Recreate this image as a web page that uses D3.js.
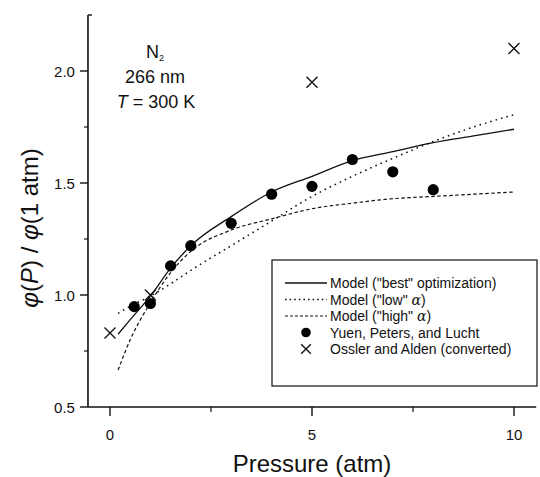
<!DOCTYPE html>
<html>
<head>
<meta charset="utf-8">
<script src="https://d3js.org/d3.v7.min.js"></script>
<style>
  body { margin: 0; background: #fff; }
  text { font-family: "Liberation Sans", Arial, sans-serif; fill: #111; }
</style>
</head>
<body>
<svg id="chart" width="540" height="477"></svg>
<script>
  // measured data (Yuen, Peters, and Lucht)
  const yuenP = [0.6, 1.0, 1.5, 2.0, 3.0, 4.0, 5.0, 6.0, 7.0, 8.0];
  const yuenPhi = [0.948, 0.962, 1.13, 1.22, 1.32, 1.45, 1.485, 1.605, 1.55, 1.47];

  // Ossler and Alden (converted)
  const osslerP = [0, 1, 5, 10];
  const osslerPhi = [0.83, 1.0, 1.95, 2.1];

  // model curves
  const modelP = [0.2, 0.5, 1, 1.5, 2, 3, 4, 5, 6, 7, 8, 9, 10];
  const bestPhi = [0.825, 0.89, 0.995, 1.12, 1.22, 1.35, 1.46, 1.53, 1.6, 1.64, 1.68, 1.71, 1.74];
  const lowPhi = [0.918, 0.95, 0.995, 1.05, 1.11, 1.22, 1.33, 1.44, 1.53, 1.61, 1.685, 1.75, 1.805];
  const highPhi = [0.665, 0.8, 0.965, 1.1, 1.195, 1.29, 1.34, 1.385, 1.41, 1.43, 1.44, 1.45, 1.46];

  const xTicks = [0, 5, 10];
  const xMinor = [2.5, 7.5];
  const yTicks = [0.5, 1.0, 1.5, 2.0];
  const yMinor = [0.75, 1.25, 1.75];

  const svg = d3.select("#chart");

  // scales - pixel positions taken from the reference layout
  const x = d3.scaleLinear().domain([0, 10]).range([110, 514]);
  const y = d3.scaleLinear().domain([0.5, 2.0]).range([407, 71]);

  const xLeft = x(-0.545), xRight = x(10.55);
  const yTop = y(2.25);

  // axis lines
  svg.append("line")
    .attr("x1", xLeft).attr("x2", xLeft)
    .attr("y1", yTop).attr("y2", y(0.5))
    .attr("stroke", "#111").attr("stroke-width", 1.6);
  svg.append("line")
    .attr("x1", xLeft).attr("x2", xLeft + 4)
    .attr("y1", yTop).attr("y2", yTop)
    .attr("stroke", "#111").attr("stroke-width", 1.4);
  svg.append("line")
    .attr("x1", xLeft).attr("x2", xRight)
    .attr("y1", y(0.5)).attr("y2", y(0.5))
    .attr("stroke", "#111").attr("stroke-width", 1.6);

  // y ticks
  svg.selectAll(".ytick").data(yTicks).join("line")
    .attr("x1", xLeft - 8).attr("x2", xLeft)
    .attr("y1", d => y(d)).attr("y2", d => y(d))
    .attr("stroke", "#111").attr("stroke-width", 1.4);
  svg.selectAll(".yminor").data(yMinor).join("line")
    .attr("x1", xLeft - 4).attr("x2", xLeft)
    .attr("y1", d => y(d)).attr("y2", d => y(d))
    .attr("stroke", "#111").attr("stroke-width", 1.2);
  svg.selectAll(".ylab").data(yTicks).join("text")
    .attr("x", xLeft - 13).attr("y", d => y(d) + 5.5)
    .attr("text-anchor", "end")
    .style("font-size", "15px")
    .text(d => d.toFixed(1));

  // x ticks
  svg.selectAll(".xtick").data(xTicks).join("line")
    .attr("x1", d => x(d)).attr("x2", d => x(d))
    .attr("y1", y(0.5)).attr("y2", y(0.5) + 9)
    .attr("stroke", "#111").attr("stroke-width", 1.4);
  svg.selectAll(".xminor").data(xMinor).join("line")
    .attr("x1", d => x(d)).attr("x2", d => x(d))
    .attr("y1", y(0.5)).attr("y2", y(0.5) + 5)
    .attr("stroke", "#111").attr("stroke-width", 1.2);
  svg.selectAll(".xlab").data(xTicks).join("text")
    .attr("x", d => x(d)).attr("y", y(0.5) + 33)
    .attr("text-anchor", "middle")
    .style("font-size", "15px")
    .text(d => d);

  // axis titles
  svg.append("text")
    .attr("x", 312).attr("y", 472)
    .attr("text-anchor", "middle")
    .style("font-size", "24px")
    .text("Pressure (atm)");

  const yt = svg.append("text")
    .attr("transform", "translate(38,228) rotate(-90)")
    .attr("text-anchor", "middle")
    .style("font-size", "24px");
  yt.append("tspan").style("font-style", "italic").text("φ");
  yt.append("tspan").text("(");
  yt.append("tspan").style("font-style", "italic").text("P");
  yt.append("tspan").text(") / ");
  yt.append("tspan").style("font-style", "italic").text("φ");
  yt.append("tspan").text("(1 atm)");

  // annotation
  const ann = svg.append("g").style("font-size", "18px");
  const n2 = ann.append("text").attr("x", 155).attr("y", 58).attr("text-anchor", "middle");
  n2.append("tspan").text("N");
  n2.append("tspan").attr("dy", 3).style("font-size", "9px").text("2");
  ann.append("text").attr("x", 155).attr("y", 83).attr("text-anchor", "middle").text("266 nm");
  const tt = ann.append("text").attr("x", 156).attr("y", 108).attr("text-anchor", "middle");
  tt.append("tspan").style("font-style", "italic").text("T");
  tt.append("tspan").text(" = 300 K");

  // model curves
  const line = d3.line()
    .x(d => x(d[0]))
    .y(d => y(d[1]))
    .curve(d3.curveMonotoneX);

  const curves = [
    { vals: bestPhi, dash: null, w: 1.3 },
    { vals: lowPhi, dash: "1.6,4", w: 1.5 },
    { vals: highPhi, dash: "3.5,2.5", w: 1.2 }
  ];
  curves.forEach(c => {
    svg.append("path")
      .attr("d", line(modelP.map((p, i) => [p, c.vals[i]])))
      .attr("fill", "none")
      .attr("stroke", "#111")
      .attr("stroke-width", c.w)
      .attr("stroke-dasharray", c.dash);
  });

  // data markers
  svg.selectAll(".yuen").data(yuenP).join("circle")
    .attr("cx", d => x(d))
    .attr("cy", (d, i) => y(yuenPhi[i]))
    .attr("r", 5.6)
    .attr("fill", "#000");

  const cross = (g, cx, cy, s) => {
    g.append("path")
      .attr("d", `M${cx - s},${cy - s}L${cx + s},${cy + s}M${cx - s},${cy + s}L${cx + s},${cy - s}`)
      .attr("stroke", "#111").attr("stroke-width", 1.4).attr("fill", "none");
  };
  osslerP.forEach((p, i) => cross(svg, x(p), y(osslerPhi[i]), 5.5));

  // legend
  const lg = svg.append("g");
  lg.append("rect")
    .attr("x", 272).attr("y", 260).attr("width", 265).attr("height", 126)
    .attr("fill", "#fff").attr("stroke", "#111").attr("stroke-width", 1.2);

  const legendItems = [
    { kind: "line", dash: null, w: 1.3, label: ["Model (\"best\" optimization)"] },
    { kind: "line", dash: "1.6,3", w: 1.5, label: ["Model (\"low\" ", "α", ")"] },
    { kind: "line", dash: "3,2", w: 1.2, label: ["Model (\"high\" ", "α", ")"] },
    { kind: "dot", label: ["Yuen, Peters, and Lucht"] },
    { kind: "cross", label: ["Ossler and Alden (converted)"] }
  ];
  const rowY = [283, 299.5, 316, 332.5, 349];
  legendItems.forEach((it, i) => {
    const yy = rowY[i];
    if (it.kind === "line") {
      lg.append("line")
        .attr("x1", 285).attr("x2", 327).attr("y1", yy).attr("y2", yy)
        .attr("stroke", "#111").attr("stroke-width", it.w)
        .attr("stroke-dasharray", it.dash);
    } else if (it.kind === "dot") {
      lg.append("circle").attr("cx", 306).attr("cy", yy).attr("r", 4.8).attr("fill", "#000");
    } else {
      cross(lg, 306, yy, 4.8);
    }
    const t = lg.append("text")
      .attr("x", 330).attr("y", yy + 5)
      .style("font-size", "14px");
    it.label.forEach(s => {
      const sp = t.append("tspan").text(s);
      if (s === "α") sp.style("font-style", "italic").style("font-family", "'DejaVu Serif', serif");
    });
  });
</script>
</body>
</html>
